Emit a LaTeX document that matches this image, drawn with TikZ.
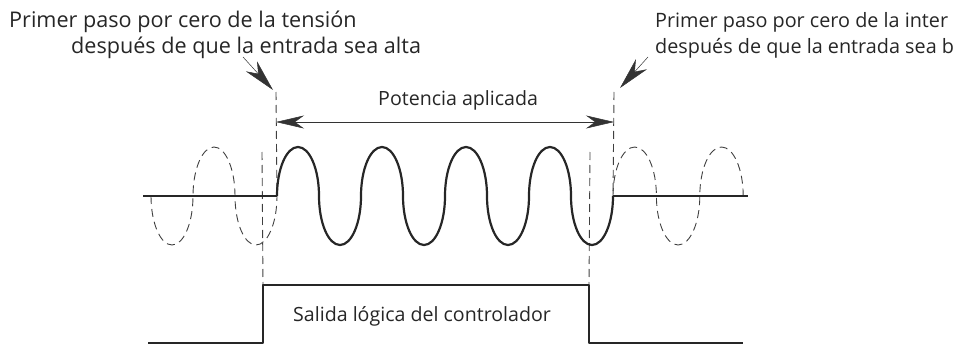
\documentclass[tikz,border=0pt]{standalone}
\usepackage{fontspec}
\setmainfont{Open Sans}
\usetikzlibrary{arrows.meta}
\begin{document}
\begin{tikzpicture}[x=1pt,y=-1pt,
  toplbl/.style={anchor=base west,inner sep=0pt,font=\fontsize{21.6}{24}\selectfont,text=black!85},
  edgelbl/.style={anchor=base west,inner sep=0pt,font=\fontsize{19.8}{24}\selectfont,text=black!85},
  lbl/.style={anchor=base west,inner sep=0pt,font=\fontsize{19.6}{22}\selectfont,text=black!85},
  sig/.style={line width=2.2pt,black!85,line join=round},
  guide/.style={line width=0.9pt,black!75,dash pattern=on 8pt off 5pt},
  ghost/.style={line width=0.9pt,black!75,dash pattern=on 8pt off 5pt},
  pointer/.style={line width=0.5pt,black!80,-{Stealth[length=32pt,width=15pt,inset=10pt]}},
  span/.style={line width=0.5pt,black!80,{Stealth[length=28pt,width=13pt,inset=9pt]}-{Stealth[length=28pt,width=13pt,inset=9pt]}},
  up/.style={start angle=180,end angle=360,x radius=21,y radius=49},
  dn/.style={start angle=180,end angle=0,x radius=21,y radius=49},
  upR/.style={start angle=180,end angle=360,x radius=21.7,y radius=49},
  dnR/.style={start angle=180,end angle=0,x radius=21.7,y radius=49}]
\useasboundingbox (0,0) rectangle (956,345);
% texts
\node[toplbl] (t1a) at (9,28) {Primer paso por cero de la tensión};
\node[toplbl] (t1b) at (71,54) {después de que la entrada sea alta};
\node[edgelbl] (t2a) at (655,28) {Primer paso por cero de la inter};
\node[edgelbl] (t2b) at (655,54) {después de que la entrada sea b};
\node[lbl] (pa) at (378,106) {Potencia aplicada};
\node[lbl] (sl) at (293,321) {Salida lógica del controlador};
% key coordinates
\coordinate (gstart) at (151,196);
\coordinate (on) at (277,196);
\coordinate (off) at (613,196);
\coordinate (lstart) at (143,196);
\coordinate (rend) at (748,196);
\coordinate (onTop) at (276,92);
\coordinate (offTop) at (614,92);
\coordinate (onMid) at (276,122);
\coordinate (offMid) at (614,122);
\coordinate (src1) at (243,57);
\coordinate (tip1) at (273,90);
\coordinate (src2) at (648,57);
\coordinate (tip2) at (620,88);
\coordinate (swOnTop) at (262,152);
\coordinate (swOffTop) at (590,152);
\coordinate (lowL) at (148,343);
\coordinate (upA) at (263,343);
\coordinate (upB) at (263,285);
\coordinate (dnA) at (589,285);
\coordinate (dnB) at (589,343);
\coordinate (lowR) at (743,343);
% guides
\draw[guide] (onTop) -- (on);
\draw[guide] (offTop) -- (off);
\draw[guide] (swOnTop) -- (upB);
\draw[guide] (swOffTop) -- (dnA);
% pointers
\draw[pointer] (src1) -- (tip1);
\draw[pointer] (src2) -- (tip2);
\draw[span] (onMid) -- (offMid);
% ghost waves
\draw[ghost] (gstart) arc[dn] arc[up] arc[dn];
\draw[ghost] (off) arc[upR] arc[dnR] arc[upR];
% power wave
\draw[sig] (lstart) -- (on);
\draw[sig] (on) arc[up] arc[dn] arc[up] arc[dn] arc[up] arc[dn] arc[up] arc[dn];
\draw[sig] (off) -- (rend);
% logic output
\draw[sig] (lowL) -- (upA) -- (upB) -- (dnA) -- (dnB) -- (lowR);
\end{tikzpicture}
\end{document}
